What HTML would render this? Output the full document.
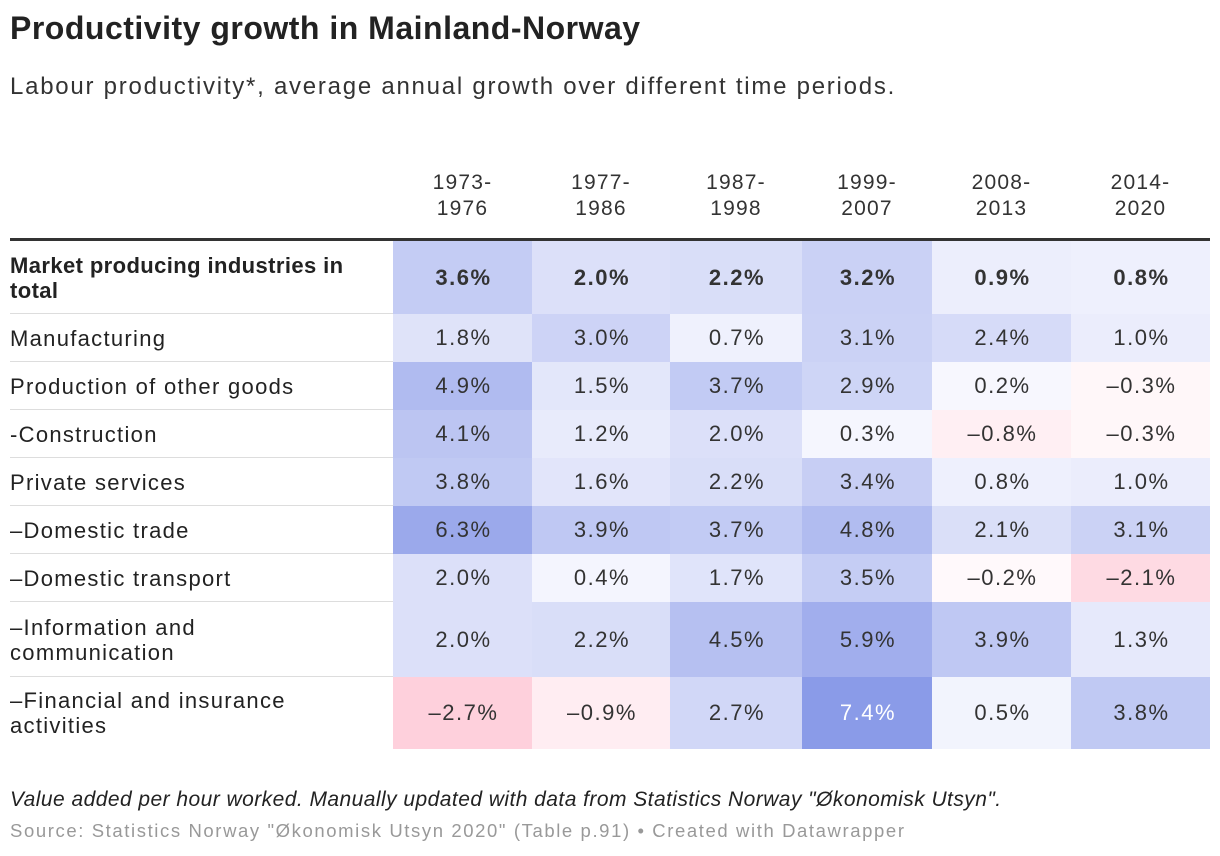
<!DOCTYPE html>
<html><head><meta charset="utf-8"><style>
body{margin:0;width:1220px;height:856px;background:#fff;font-family:"Liberation Sans",sans-serif;color:#333;overflow:hidden;position:relative}
#title{position:absolute;left:10px;top:10px;font-size:32px;font-weight:bold;color:#222;letter-spacing:0.5px}
#sub{position:absolute;left:10px;top:73px;font-size:24px;color:#333;letter-spacing:1.75px}
#tbl{position:absolute;left:0;top:0;width:1220px;height:856px}
.cell{position:absolute;display:flex;align-items:center;justify-content:center;font-size:22px;box-sizing:border-box;letter-spacing:1.5px;padding-left:2px}
.lab{position:absolute;left:10px;display:flex;align-items:center;font-size:22px;line-height:25px;color:#222;letter-spacing:1.3px}
.hd{position:absolute;top:170px;text-align:center;font-size:21px;line-height:26px;color:#333;letter-spacing:1.2px}
.line{position:absolute;left:10px;width:1200px;height:1px;background:#ddd}
#note{position:absolute;left:10px;top:788px;font-size:21px;font-style:italic;color:#222;letter-spacing:0.45px}
#src{position:absolute;left:10px;top:820px;font-size:18.5px;color:#999;letter-spacing:1.6px}
</style></head><body>
<div id="title">Productivity growth in Mainland-Norway</div>
<div id="sub">Labour productivity*, average annual growth over different time periods.</div>
<div id="tbl"></div>
<div id="note">Value added per hour worked. Manually updated with data from Statistics Norway "Økonomisk Utsyn".</div>
<div id="src">Source: Statistics Norway "Økonomisk Utsyn 2020" (Table p.91) • Created with Datawrapper</div>
<script>
const periods=["1973-\n1976","1977-\n1986","1987-\n1998","1999-\n2007","2008-\n2013","2014-\n2020"];
const rowsLabels=["Market producing industries in total","Manufacturing","Production of other goods","-Construction","Private services","–Domestic trade","–Domestic transport","–Information and communication","–Financial and insurance activities"];
const values=[
[3.6,2.0,2.2,3.2,0.9,0.8],
[1.8,3.0,0.7,3.1,2.4,1.0],
[4.9,1.5,3.7,2.9,0.2,-0.3],
[4.1,1.2,2.0,0.3,-0.8,-0.3],
[3.8,1.6,2.2,3.4,0.8,1.0],
[6.3,3.9,3.7,4.8,2.1,3.1],
[2.0,0.4,1.7,3.5,-0.2,-2.1],
[2.0,2.2,4.5,5.9,3.9,1.3],
[-2.7,-0.9,2.7,7.4,0.5,3.8]];
const colEdges=[393,532,670,802,932,1071,1210];
const rowTops=[241,314,362,410,458,506,554,602,677,749];
const T=document.getElementById('tbl');
function color(v){
  if(v>=0){const t=Math.min(v/7.4,1);
    return `rgb(${Math.round(250-t*(250-138))},${Math.round(250-t*(250-155))},${Math.round(255-t*(255-232))})`;}
  const t=Math.min(-v/2.7,1);
  return `rgb(${Math.round(255-t*1)},${Math.round(252-t*(252-208))},${Math.round(253-t*(253-220))})`;
}
function fmt(v){return (v<0?'–':'')+Math.abs(v).toFixed(1)+'%';}
periods.forEach((p,j)=>{
  const d=document.createElement('div');d.className='hd';
  
  
  d.style.left=colEdges[j]+'px';d.style.width=(colEdges[j+1]-colEdges[j])+'px';
  d.innerHTML=p.replace('\n','<br>');T.appendChild(d);
});
const thick=document.createElement('div');thick.className='line';


thick.style.top='238px';thick.style.height='3px';thick.style.background='#333';T.appendChild(thick);
rowsLabels.forEach((r,i)=>{
  const top=rowTops[i],h=rowTops[i+1]-top;
  const l=document.createElement('div');l.className='lab';
  
  
  l.style.top=top+'px';l.style.height=h+'px';l.style.width=(i==0?370:330)+'px';
  if(i==0){l.style.fontWeight='bold';l.style.letterSpacing='0.4px';}
  l.textContent=r;T.appendChild(l);
  values[i].forEach((v,j)=>{
    const c=document.createElement('div');c.className='cell';
    
    
    c.style.left=colEdges[j]+'px';c.style.width=(colEdges[j+1]-colEdges[j])+'px';
    c.style.top=top+'px';c.style.height=h+'px';c.style.background=color(v);
    if(i==0)c.style.fontWeight='bold';
    if(v>7)c.style.color='#fff';
    c.textContent=fmt(v);T.appendChild(c);
  });
  if(i>0){const ln=document.createElement('div');ln.className='line';
    
    
    ln.style.top=(top-1)+'px';ln.style.width='383px';T.appendChild(ln);}
});
</script>
</body></html>
